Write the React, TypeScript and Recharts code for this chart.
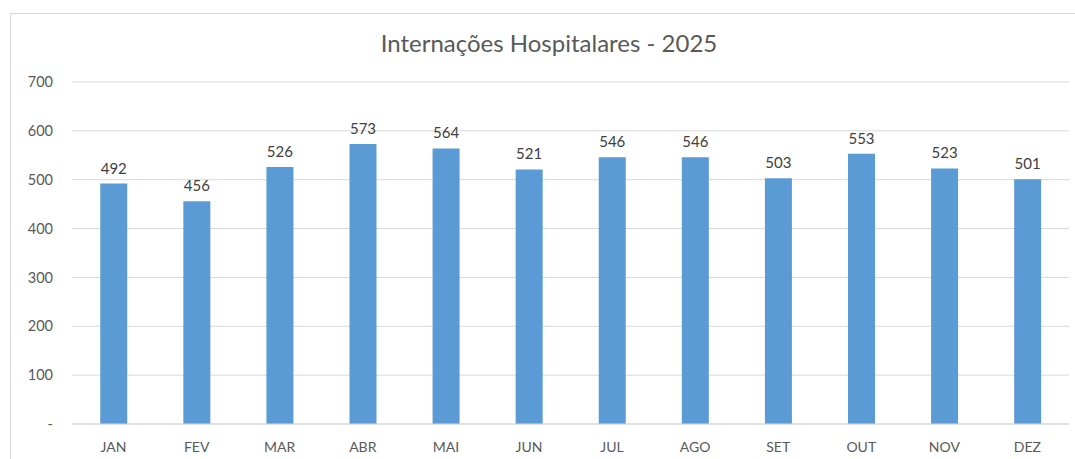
import { BarChart, Bar, XAxis, YAxis, CartesianGrid, LabelList } from 'recharts';

const months = ['JAN', 'FEV', 'MAR', 'ABR', 'MAI', 'JUN', 'JUL', 'AGO', 'SET', 'OUT', 'NOV', 'DEZ'];
const admissions = [492, 456, 526, 573, 564, 521, 546, 546, 503, 553, 523, 501];
const yTicks = [0, 100, 200, 300, 400, 500, 600, 700];
const title = 'Internações Hospitalares - 2025';

const font = 'Lato, "Noto Sans", sans-serif';
const textColor = '#595959';

function App() {
	const data = months.map((m, i) => ({ month: m, value: admissions[i] }));

	// Excel shows zero as a dash
	const formatY = (v: number) => (v === 0 ? '-' : String(v));

	return (
		<div style={{ position: 'absolute', left: 0, top: 0, width: 1075, height: 459, overflow: 'hidden', background: '#fff' }}>
			<div
				style={{
					position: 'absolute',
					left: 10,
					top: 13,
					width: 1100,
					height: 480,
					border: '1px solid #d9d9d9',
				}}
			/>
			<div
				style={{
					position: 'absolute',
					left: 349,
					top: 28,
					width: 400,
					textAlign: 'center',
					fontFamily: font,
					fontSize: 24,
					color: textColor,
					lineHeight: '30px',
				}}
			>
				{title}
			</div>
			<div style={{ position: 'absolute', left: 0, top: 0 }}>
				<BarChart
					width={1075}
					height={459}
					data={data}
					margin={{ top: 82, right: 6, left: 12, bottom: 5 }}
					barCategoryGap="34%"
				>
					<CartesianGrid vertical={false} stroke="#d9d9d9" strokeWidth={1} />
					<XAxis
						dataKey="month"
						axisLine={{ stroke: '#d9d9d9' }}
						tickLine={false}
						height={30}
						tickMargin={12}
						tick={{ fill: textColor, fontSize: 14, fontFamily: font }}
						interval={0}
					/>
					<YAxis
						domain={[0, 700]}
						ticks={yTicks}
						width={60}
						axisLine={false}
						tickLine={false}
						tickMargin={13}
						tickFormatter={formatY}
						tick={{ fill: textColor, fontSize: 14.5, fontFamily: font }}
					/>
					<Bar dataKey="value" fill="#5b9bd5" isAnimationActive={false}>
						<LabelList dataKey="value" position="top" offset={10} fill="#404040" fontSize={15} fontFamily={font} />
					</Bar>
				</BarChart>
			</div>
		</div>
	);
}

export default App;
